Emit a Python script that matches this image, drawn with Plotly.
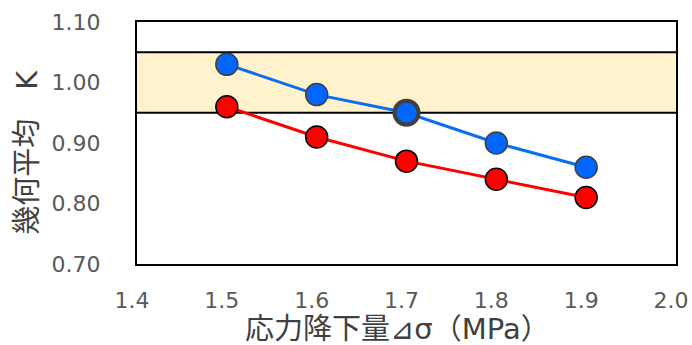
import plotly.graph_objects as go

x_vals = [1.5, 1.6, 1.7, 1.8, 1.9]
blue_vals = [1.03, 0.98, 0.95, 0.90, 0.86]
red_vals = [0.96, 0.91, 0.87, 0.84, 0.81]
band_low, band_high = 0.95, 1.05
x_ticks = [1.4, 1.5, 1.6, 1.7, 1.8, 1.9, 2.0]
y_ticks = [0.70, 0.80, 0.90, 1.00, 1.10]

font_family = "DejaVu Sans, Noto Sans CJK JP"

fig = go.Figure()

fig.add_shape(type="rect", xref="paper", yref="y", x0=0, x1=1.004, y0=band_low, y1=band_high,
              fillcolor="#FFF2CC", line=dict(width=0), layer="below")
for yv in (band_low, band_high):
    fig.add_shape(type="line", xref="paper", yref="y", x0=0, x1=1.004, y0=yv, y1=yv,
                  line=dict(color="black", width=2), layer="below")

fig.add_trace(go.Scatter(
    x=x_vals, y=red_vals, mode="lines+markers",
    line=dict(color="#FF0000", width=3),
    marker=dict(size=22, color="#FF0000", opacity=1, line=dict(color="black", width=1.5)),
    showlegend=False))
fig.add_trace(go.Scatter(
    x=x_vals, y=blue_vals, mode="lines+markers",
    line=dict(color="#0A6EF0", width=3),
    marker=dict(size=[22, 22, 24, 22, 22], color="#0066FF", opacity=1,
                line=dict(color="#404040", width=[1.5, 1.5, 4, 1.5, 1.5])),
    showlegend=False))

fig.update_layout(
    width=692, height=345,
    margin=dict(l=137, r=16, t=22, b=81),
    paper_bgcolor="white", plot_bgcolor="white",
    font=dict(family=font_family, color="#595959"),
    xaxis=dict(range=[1.4, 2.0], tickvals=x_ticks, ticktext=[f"{v:.1f}" for v in x_ticks],
               showgrid=False, zeroline=False, showline=True, linecolor="black", linewidth=2,
               mirror=True, ticks="", automargin=False, ticklabeloverflow="allow",
               tickfont=dict(size=22, color="#595959"), ticklabelstandoff=16,
               ticklabelshift=-5),
    yaxis=dict(range=[0.70, 1.10], tickvals=y_ticks, ticktext=[f"{v:.2f}" for v in y_ticks],
               showgrid=False, zeroline=False, showline=True, linecolor="black", linewidth=2,
               mirror=True, ticks="", automargin=False,
               tickfont=dict(size=22, color="#595959"), ticklabelstandoff=30),
    annotations=[
        dict(text="応力降下量⊿σ（MPa）", xref="paper", yref="paper", x=0.484, y=-0.27,
             xanchor="center", yanchor="middle", showarrow=False,
             font=dict(size=29, color="#404040", family=font_family)),
        dict(text="幾何平均　K", xref="paper", yref="paper", x=-0.204, y=0.46,
             xanchor="center", yanchor="middle", textangle=-90, showarrow=False,
             font=dict(size=29, color="#404040", family=font_family)),
    ],
)

fig.write_html(
    "out.html",
    config={"displayModeBar": False},
    post_script="document.body.style.margin='0';document.documentElement.style.overflow='hidden';",
)
